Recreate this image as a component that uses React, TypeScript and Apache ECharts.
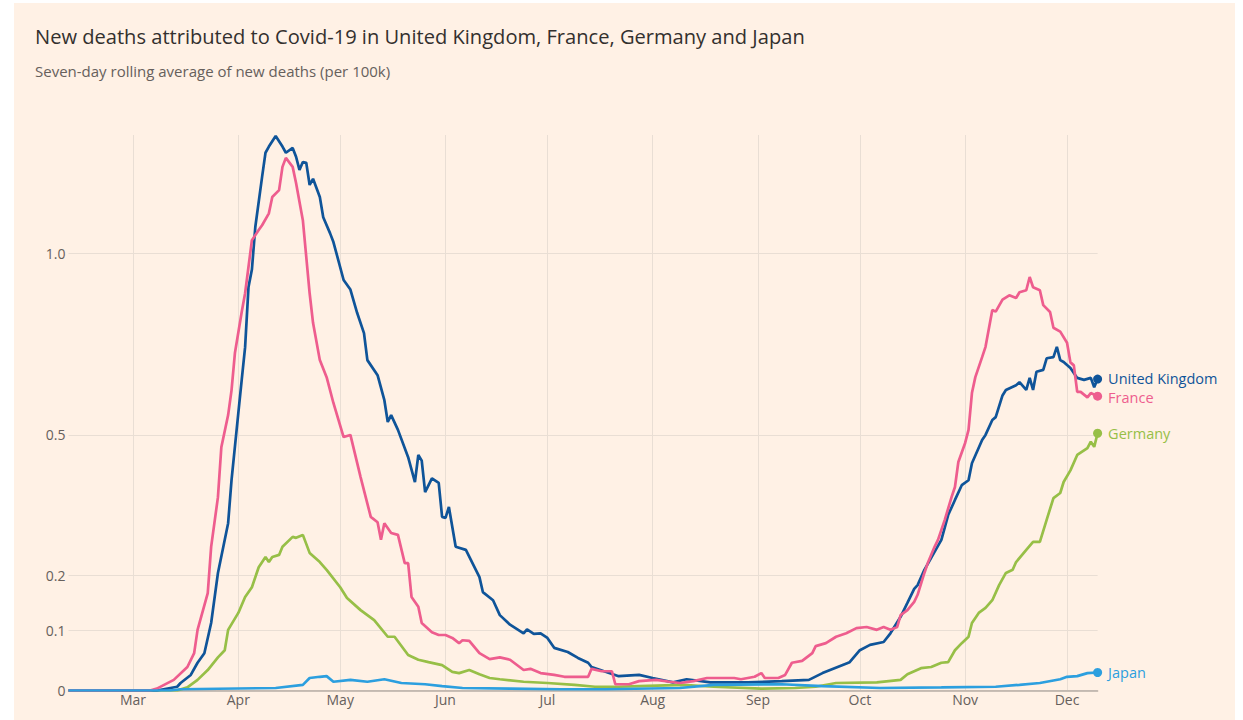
import React, { useEffect, useRef } from "react";
import * as echarts from "echarts";

const TITLE = "New deaths attributed to Covid-19 in United Kingdom, France, Germany and Japan";
const SUBTITLE = "Seven-day rolling average of new deaths (per 100k)";

const MONTHS = ["Jan", "Feb", "Mar", "Apr", "May", "Jun", "Jul", "Aug", "Sep", "Oct", "Nov", "Dec"];
const Y_TICKS = [0, 0.1, 0.2, 0.5, 1.0];
const Y_TICK_LABELS = ["0", "0.1", "0.2", "0.5", "1.0"];
const Y_MAX = 1.414;

const SERIES_NAMES = ["Germany", "United Kingdom", "France", "Japan"];
const COLORS = ["#97bf47", "#0f5499", "#ee5d8e", "#2c9fdf"];

const ukData: [string, number][] = [
  ["02-11", 0], ["03-08", 0], ["03-14", 0.006], ["03-15", 0.012], ["03-18", 0.025], ["03-20", 0.045],
  ["03-22", 0.061], ["03-24", 0.113], ["03-26", 0.205], ["03-29", 0.304], ["03-30", 0.396], ["04-01", 0.553],
  ["04-02", 0.637], ["04-03", 0.724], ["04-04", 0.897], ["04-05", 0.95], ["04-06", 1.086], ["04-08", 1.259],
  ["04-09", 1.347], ["04-10", 1.37], ["04-12", 1.41], ["04-14", 1.37], ["04-15", 1.347], ["04-17", 1.365],
  ["04-18", 1.332], ["04-19", 1.284], ["04-20", 1.313], ["04-21", 1.31], ["04-22", 1.23], ["04-23", 1.252],
  ["04-25", 1.188], ["04-26", 1.119], ["04-28", 1.066], ["04-29", 1.037], ["05-02", 0.918], ["05-04", 0.889],
  ["05-06", 0.82], ["05-08", 0.763], ["05-09", 0.689], ["05-12", 0.649], ["05-14", 0.585], ["05-15", 0.531],
  ["05-16", 0.548], ["05-18", 0.512], ["05-21", 0.448], ["05-23", 0.392], ["05-24", 0.453], ["05-25", 0.44],
  ["05-26", 0.37], ["05-28", 0.4], ["05-30", 0.39], ["05-31", 0.317], ["06-01", 0.315], ["06-02", 0.338],
  ["06-04", 0.256], ["06-07", 0.25], ["06-11", 0.197], ["06-12", 0.169], ["06-15", 0.154], ["06-17", 0.127],
  ["06-20", 0.11], ["06-24", 0.095], ["06-25", 0.102], ["06-27", 0.094], ["06-29", 0.095], ["07-01", 0.087],
  ["07-03", 0.07], ["07-07", 0.063], ["07-10", 0.053], ["07-13", 0.045], ["07-14", 0.038], ["07-22", 0.023],
  ["07-28", 0.025], ["08-01", 0.02], ["08-07", 0.013], ["08-11", 0.018], ["08-18", 0.013], ["08-29", 0.013],
  ["09-08", 0.015], ["09-16", 0.017], ["09-20", 0.028], ["09-28", 0.046], ["10-01", 0.066], ["10-04", 0.075],
  ["10-08", 0.08], ["10-10", 0.095], ["10-13", 0.124], ["10-15", 0.149], ["10-17", 0.175], ["10-18", 0.182],
  ["10-20", 0.211], ["10-23", 0.246], ["10-25", 0.27], ["10-27", 0.321], ["10-29", 0.353], ["10-31", 0.385],
  ["11-02", 0.396], ["11-03", 0.434], ["11-06", 0.488], ["11-07", 0.5], ["11-09", 0.536], ["11-10", 0.543],
  ["11-12", 0.597], ["11-13", 0.611], ["11-16", 0.623], ["11-17", 0.631], ["11-19", 0.611], ["11-20", 0.642],
  ["11-21", 0.611], ["11-22", 0.658], ["11-24", 0.663], ["11-25", 0.694], ["11-27", 0.697], ["11-28", 0.725],
  ["11-29", 0.689], ["11-30", 0.684], ["12-02", 0.668], ["12-04", 0.642], ["12-06", 0.637], ["12-08", 0.642],
  ["12-09", 0.618], ["12-10", 0.639],
];

const franceData: [string, number][] = [
  ["02-11", 0], ["03-06", 0], ["03-08", 0.003], ["03-13", 0.017], ["03-17", 0.038], ["03-19", 0.061],
  ["03-20", 0.101], ["03-23", 0.167], ["03-24", 0.256], ["03-26", 0.359], ["03-27", 0.471], ["03-29", 0.548],
  ["03-30", 0.61], ["03-31", 0.708], ["04-02", 0.823], ["04-03", 0.878], ["04-05", 1.043], ["04-07", 1.076],
  ["04-08", 1.092], ["04-10", 1.132], ["04-11", 1.188], ["04-13", 1.212], ["04-14", 1.295], ["04-15", 1.328],
  ["04-17", 1.295], ["04-18", 1.237], ["04-20", 1.109], ["04-22", 0.878], ["04-23", 0.792], ["04-25", 0.689],
  ["04-27", 0.644], ["04-29", 0.578], ["05-02", 0.495], ["05-04", 0.5], ["05-07", 0.403], ["05-10", 0.317],
  ["05-12", 0.306], ["05-13", 0.27], ["05-14", 0.304], ["05-16", 0.284], ["05-18", 0.28], ["05-20", 0.224],
  ["05-21", 0.224], ["05-22", 0.16], ["05-24", 0.142], ["05-25", 0.113], ["05-28", 0.097], ["05-30", 0.092],
  ["06-01", 0.092], ["06-03", 0.087], ["06-05", 0.078], ["06-06", 0.083], ["06-08", 0.082], ["06-11", 0.061],
  ["06-14", 0.051], ["06-17", 0.054], ["06-20", 0.05], ["06-24", 0.033], ["06-26", 0.035], ["06-29", 0.028],
  ["07-03", 0.025], ["07-06", 0.022], ["07-09", 0.022], ["07-13", 0.022], ["07-14", 0.035], ["07-17", 0.031],
  ["07-20", 0.031], ["07-21", 0.01], ["07-25", 0.01], ["07-28", 0.015], ["08-02", 0.017], ["08-06", 0.014],
  ["08-09", 0.012], ["08-13", 0.015], ["08-17", 0.02], ["08-21", 0.02], ["08-25", 0.02], ["08-27", 0.018],
  ["08-31", 0.022], ["09-02", 0.028], ["09-03", 0.02], ["09-07", 0.02], ["09-09", 0.025], ["09-11", 0.045],
  ["09-14", 0.048], ["09-17", 0.061], ["09-18", 0.073], ["09-21", 0.078], ["09-24", 0.089], ["09-27", 0.095],
  ["09-30", 0.104], ["10-03", 0.106], ["10-06", 0.101], ["10-08", 0.106], ["10-10", 0.101], ["10-12", 0.106],
  ["10-13", 0.127], ["10-15", 0.136], ["10-17", 0.151], ["10-18", 0.164], ["10-20", 0.205], ["10-21", 0.224],
  ["10-23", 0.256], ["10-24", 0.27], ["10-26", 0.311], ["10-28", 0.359], ["10-29", 0.381], ["10-30", 0.437],
  ["11-01", 0.481], ["11-02", 0.512], ["11-03", 0.603], ["11-04", 0.644], ["11-06", 0.697], ["11-07", 0.725],
  ["11-09", 0.829], ["11-10", 0.824], ["11-12", 0.859], ["11-14", 0.872], ["11-16", 0.864], ["11-17", 0.881],
  ["11-19", 0.887], ["11-20", 0.927], ["11-21", 0.896], ["11-23", 0.887], ["11-24", 0.843], ["11-26", 0.823],
  ["11-27", 0.778], ["11-29", 0.767], ["12-01", 0.736], ["12-02", 0.683], ["12-03", 0.675], ["12-04", 0.606],
  ["12-05", 0.606], ["12-07", 0.592], ["12-08", 0.603], ["12-10", 0.595],
];

const germanyData: [string, number][] = [
  ["02-11", 0], ["03-14", 0], ["03-17", 0.005], ["03-20", 0.017], ["03-23", 0.033], ["03-26", 0.054],
  ["03-28", 0.066], ["03-29", 0.101], ["04-01", 0.131], ["04-03", 0.16], ["04-05", 0.178], ["04-07", 0.216],
  ["04-09", 0.236], ["04-10", 0.226], ["04-11", 0.236], ["04-13", 0.24], ["04-14", 0.256], ["04-17", 0.276],
  ["04-18", 0.274], ["04-20", 0.28], ["04-22", 0.244], ["04-25", 0.226], ["04-27", 0.211], ["05-01", 0.178],
  ["05-03", 0.158], ["05-07", 0.136], ["05-11", 0.118], ["05-15", 0.089], ["05-17", 0.089], ["05-21", 0.058],
  ["05-24", 0.05], ["05-27", 0.046], ["05-31", 0.041], ["06-03", 0.03], ["06-05", 0.028], ["06-08", 0.033],
  ["06-11", 0.026], ["06-14", 0.02], ["06-17", 0.018], ["06-24", 0.014], ["07-01", 0.012], ["07-09", 0.009],
  ["07-15", 0.006], ["07-22", 0.006], ["07-28", 0.007], ["08-10", 0.009], ["08-19", 0.006], ["09-02", 0.003],
  ["09-12", 0.004], ["09-18", 0.006], ["09-24", 0.012], ["10-06", 0.013], ["10-13", 0.017], ["10-15", 0.026],
  ["10-19", 0.036], ["10-22", 0.038], ["10-25", 0.045], ["10-27", 0.046], ["10-29", 0.066], ["10-31", 0.078],
  ["11-02", 0.089], ["11-03", 0.113], ["11-05", 0.131], ["11-07", 0.14], ["11-09", 0.154], ["11-11", 0.182],
  ["11-13", 0.205], ["11-15", 0.211], ["11-16", 0.226], ["11-19", 0.25], ["11-21", 0.266], ["11-23", 0.266],
  ["11-25", 0.311], ["11-27", 0.357], ["11-29", 0.368], ["11-30", 0.392], ["12-02", 0.418], ["12-04", 0.453],
  ["12-07", 0.469], ["12-08", 0.484], ["12-09", 0.472], ["12-10", 0.504],
];

const japanData: [string, number][] = [
  ["02-11", 0], ["03-12", 0], ["03-15", 0.002], ["04-12", 0.004], ["04-20", 0.009], ["04-22", 0.02],
  ["04-25", 0.022], ["04-27", 0.023], ["04-29", 0.014], ["05-04", 0.017], ["05-09", 0.014], ["05-14", 0.018],
  ["05-19", 0.012], ["05-26", 0.01], ["05-31", 0.007], ["06-06", 0.004], ["06-20", 0.003], ["07-05", 0.002],
  ["07-18", 0.002], ["08-09", 0.004], ["08-19", 0.009], ["09-08", 0.01], ["09-20", 0.007], ["10-07", 0.004],
  ["10-25", 0.005], ["11-10", 0.006], ["11-17", 0.009], ["11-23", 0.012], ["11-29", 0.018], ["12-01", 0.022],
  ["12-04", 0.023], ["12-07", 0.028], ["12-10", 0.029],
];

const SERIES_DATA = [germanyData, ukData, franceData, japanData];
const LABEL_NUDGE = [0, -1, 1, 0];

const START = Date.UTC(2020, 1, 11);
const END = Date.UTC(2020, 11, 10);
const categories: string[] = [];
for (let t = START; t <= END; t += 86400000) categories.push(new Date(t).toISOString().slice(0, 10));

const FONT = "Open Sans";
const tf = (v: number) => Math.log1p(v);
const isMonthStart = (_i: number, v: string) => v.slice(8) === "01";

export default function App() {
  const ref = useRef<HTMLDivElement>(null);
  useEffect(() => {
    if (!ref.current) return;
    const chart = echarts.init(ref.current, undefined, { renderer: "svg" });
    const series = SERIES_NAMES.map((name, si) => {
      const d = SERIES_DATA[si];
      return {
        name,
        type: "line",
        symbol: "none",
        showSymbol: true,
        showAllSymbol: true,
        silent: true,
        lineStyle: { color: COLORS[si], width: 2.7 },
        itemStyle: { color: COLORS[si] },
        data: d.map(([md, v], i) => {
          const value = ["2020-" + md, tf(v)];
          if (i !== d.length - 1) return value;
          return {
            value,
            symbol: "circle",
            symbolSize: 9,
            label: {
              show: true,
              position: "right",
              distance: 6,
              offset: [0, LABEL_NUDGE[si]],
              formatter: name,
              color: COLORS[si],
              fontSize: 14.5,
              lineHeight: 15,
              fontFamily: FONT,
            },
          };
        }),
      };
    });
    chart.setOption({
      animation: false,
      textStyle: { fontFamily: FONT },
      title: [
        { text: TITLE, left: 35, top: 26, padding: 0, textStyle: { fontFamily: FONT, fontSize: 20.1, fontWeight: "normal", color: "#33302e" } },
        { text: SUBTITLE, left: 35, top: 63, padding: 0, textStyle: { fontFamily: FONT, fontSize: 15, fontWeight: "normal", color: "#66605c" } },
      ],
      grid: { left: 68.5, right: 145.4, top: 135, bottom: 29.5, containLabel: false },
      xAxis: {
        type: "category",
        data: categories,
        boundaryGap: false,
        axisLine: { show: true, lineStyle: { color: "#b7ada5", width: 1.5 } },
        axisTick: { show: false },
        axisLabel: {
          interval: isMonthStart,
          formatter: (v: string) => MONTHS[+v.slice(5, 7) - 1],
          color: "#66605c",
          fontSize: 14,
          fontFamily: FONT,
          margin: 2,
        },
        splitLine: { show: true, interval: isMonthStart, lineStyle: { color: "#e9ded4", width: 1 } },
      },
      yAxis: {
        type: "value",
        min: 0,
        max: tf(Y_MAX),
        axisLine: { show: false },
        axisTick: { show: false, customValues: Y_TICKS.map(tf) },
        axisLabel: {
          customValues: Y_TICKS.map(tf),
          formatter: (v: number) => {
            let best = 0;
            Y_TICKS.forEach((t, i) => { if (Math.abs(tf(t) - v) < Math.abs(tf(Y_TICKS[best]) - v)) best = i; });
            return Y_TICK_LABELS[best];
          },
          color: "#66605c",
          fontSize: 14,
          fontFamily: FONT,
          margin: 3,
        },
        splitLine: { show: true, lineStyle: { color: "#e9ded4", width: 1 } },
      },
      series,
    });
    return () => chart.dispose();
  }, []);
  return (
    <div style={{ position: "absolute", left: 0, top: 0, width: 1243, height: 720, background: "#ffffff", overflow: "hidden" }}>
      <div style={{ position: "absolute", left: 14, top: 3, width: 1221, height: 717, background: "#fff1e5" }} />
      <div ref={ref} style={{ position: "absolute", left: 0, top: 0, width: 1243, height: 720 }} />
    </div>
  );
}
